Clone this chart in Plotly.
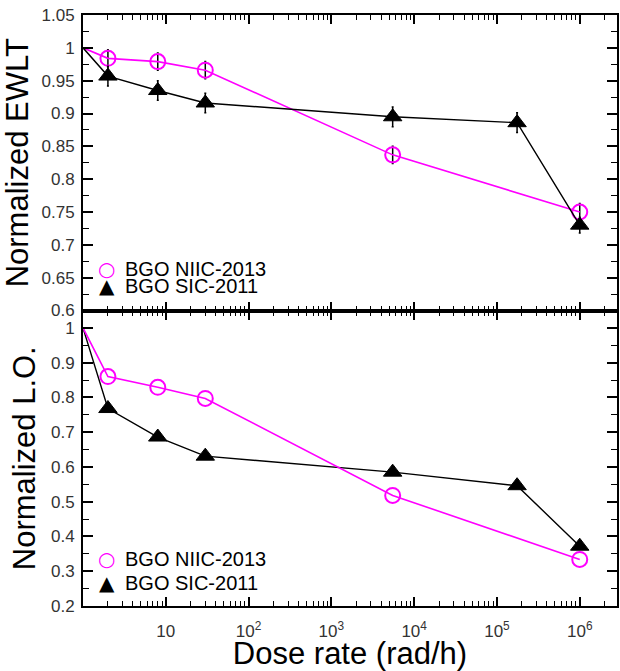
import plotly.graph_objects as go
from plotly.subplots import make_subplots

# ---------------- data ----------------
dose_niic = [1, 2, 8, 30, 5500, 1e6]
dose_sic = [1, 2, 8, 30, 5500, 1.75e5, 1e6]

ewlt_niic = [1.0, 0.984, 0.979, 0.966, 0.837, 0.750]
ewlt_niic_err = [0, 0.013, 0.013, 0.013, 0.013, 0.013]
ewlt_sic = [1.0, 0.957, 0.935, 0.916, 0.895, 0.886, 0.730]
ewlt_sic_err = [0, 0.015, 0.015, 0.015, 0.015, 0.015, 0.012]

lo_niic = [1.0, 0.860, 0.829, 0.797, 0.518, 0.334]
lo_sic = [1.0, 0.768, 0.686, 0.631, 0.585, 0.546, 0.372]

name_niic = "BGO NIIC-2013"
name_sic = "BGO SIC-2011"

x_tickvals = [10, 100, 1e3, 1e4, 1e5, 1e6]
x_ticktext = ["10", "10<sup>2</sup>", "10<sup>3</sup>", "10<sup>4</sup>",
              "10<sup>5</sup>", "10<sup>6</sup>"]
x_minor = [m * 10 ** d for d in range(0, 7) for m in range(2, 10) if m * 10 ** d < 2.9e6]

ewlt_tickvals = [0.6, 0.65, 0.7, 0.75, 0.8, 0.85, 0.9, 0.95, 1.0, 1.05]
ewlt_ticktext = ["0.6", "0.65", "0.7", "0.75", "0.8", "0.85", "0.9", "0.95", "1", "1.05"]
ewlt_minor = [0.625, 0.675, 0.725, 0.775, 0.825, 0.875, 0.925, 0.975, 1.025]
lo_tickvals = [0.2, 0.3, 0.4, 0.5, 0.6, 0.7, 0.8, 0.9, 1.0]
lo_ticktext = ["0.2", "0.3", "0.4", "0.5", "0.6", "0.7", "0.8", "0.9", "1"]
lo_minor = [0.25, 0.35, 0.45, 0.55, 0.65, 0.75, 0.85, 0.95]

MAG = "#ff00ff"
FONT = "Liberation Sans, Arial, sans-serif"

fig = make_subplots(rows=2, cols=1, shared_xaxes=True, vertical_spacing=0)


def sizes(n, s):
    return [0] + [s] * (n - 1)


circ = lambda n: dict(symbol="circle-open", size=sizes(n, 15), color=MAG, opacity=1,
                      line=dict(width=2, color=MAG))
tri = lambda n: dict(symbol="triangle-up", size=sizes(n, 16), color="#000000", opacity=1,
                     line=dict(width=1, color="#000000"))

# top panel: EWLT
fig.add_trace(go.Scatter(
    x=dose_niic, y=ewlt_niic, mode="lines+markers", name=name_niic, opacity=1,
    line=dict(color=MAG, width=1.6), marker=circ(len(dose_niic)),
    error_y=dict(type="data", array=ewlt_niic_err, color="black", thickness=1.5, width=1),
    showlegend=False), row=1, col=1)
fig.add_trace(go.Scatter(
    x=dose_sic, y=ewlt_sic, mode="lines+markers", name=name_sic, opacity=1,
    line=dict(color="black", width=1.4), marker=tri(len(dose_sic)),
    error_y=dict(type="data", array=ewlt_sic_err, color="black", thickness=1.5, width=1),
    showlegend=False), row=1, col=1)

# bottom panel: L.O.
fig.add_trace(go.Scatter(
    x=dose_sic, y=lo_sic, mode="lines+markers", name=name_sic, opacity=1,
    line=dict(color="black", width=1.4), marker=tri(len(dose_sic)),
    showlegend=False), row=2, col=1)
fig.add_trace(go.Scatter(
    x=dose_niic, y=lo_niic, mode="lines+markers", name=name_niic, opacity=1,
    line=dict(color=MAG, width=1.6), marker=circ(len(dose_niic)),
    showlegend=False), row=2, col=1)

axis_common = dict(showline=True, linecolor="black", linewidth=2, mirror="ticks",
                   ticks="inside", tickcolor="black", tickwidth=1.5, showgrid=False,
                   zeroline=False,
                   tickfont=dict(family=FONT, size=17, color="#333333"))

minor_style = dict(tickmode="array", ticks="inside", tickcolor="black", tickwidth=1.2,
                   showgrid=False)

for r in (1, 2):
    fig.update_xaxes(type="log", range=[0, 6.45], tickmode="array",
                     tickvals=x_tickvals, ticktext=x_ticktext, ticklen=9,
                     minor=dict(tickvals=x_minor, ticklen=5, **minor_style),
                     row=r, col=1, **axis_common)
fig.update_xaxes(showticklabels=False, row=1, col=1)
fig.update_xaxes(ticklabelstandoff=9,
                 title=dict(text="Dose rate (rad/h)", font=dict(family=FONT, size=31, color="black"),
                            standoff=5),
                 row=2, col=1)

fig.update_yaxes(range=[0.6, 1.05], tickmode="array", tickvals=ewlt_tickvals,
                 ticktext=ewlt_ticktext, ticklen=10, ticklabelstandoff=3,
                 minor=dict(tickvals=ewlt_minor, ticklen=6, **minor_style),
                 title=dict(text="Normalized EWLT", font=dict(family=FONT, size=31, color="black"),
                            standoff=6),
                 row=1, col=1, **axis_common)
fig.update_yaxes(range=[0.2, 1.05], tickmode="array", tickvals=lo_tickvals,
                 ticktext=lo_ticktext, ticklen=10, ticklabelstandoff=3,
                 minor=dict(tickvals=lo_minor, ticklen=6, **minor_style),
                 title=dict(text="Normalized L.O.", font=dict(family=FONT, size=31, color="black"),
                            standoff=6),
                 row=2, col=1, **axis_common)

fig.update_layout(yaxis=dict(domain=[0.5, 1.0]), yaxis2=dict(domain=[0.0, 0.5]))

# legend keys (text annotations positioned in pixels relative to paper)
W, H = 620, 671
ML, MR, MT, MB = 83, 1, 15, 65
PW, PH = W - ML - MR, H - MT - MB


def px(x):
    return (x - ML) / PW


def py(y):
    return 1 - (y - MT) / PH


legend_rows = [
    (269, "○", MAG, name_niic),
    (286, "▲", "black", name_sic),
    (559, "○", MAG, name_niic),
    (583, "▲", "black", name_sic),
]
for y, sym, col, label in legend_rows:
    fig.add_annotation(xref="paper", yref="paper", x=px(107), y=py(y), text=sym,
                       showarrow=False, xanchor="center", yanchor="middle",
                       font=dict(family="DejaVu Sans", size=20, color=col))
    fig.add_annotation(xref="paper", yref="paper", x=px(123), y=py(y), text=label,
                       showarrow=False, xanchor="left", yanchor="middle",
                       font=dict(family=FONT, size=20, color="black"))

fig.update_layout(width=W, height=H, margin=dict(l=ML, r=MR, t=MT, b=MB),
                  plot_bgcolor="white", paper_bgcolor="white", showlegend=False,
                  font=dict(family=FONT))

fig.write_html("out.html")
